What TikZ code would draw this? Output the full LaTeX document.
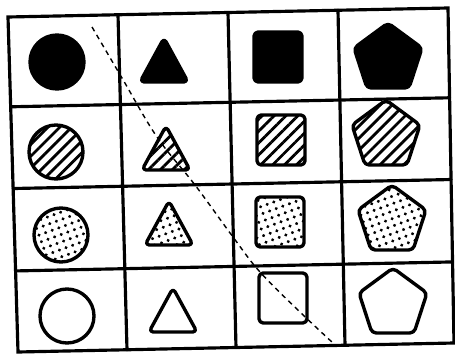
\documentclass[tikz,border=0pt]{standalone}
\usepackage{tikz}
\usetikzlibrary{calc, patterns.meta}

\begin{document}
\begin{tikzpicture}[x=0.5mm, y=-0.5mm,
  outline/.style={line width=4.8pt, rounded corners=6pt, line join=round},
  blackshape/.style={outline, fill=black},
  hatchshape/.style={outline, pattern={Lines[angle=45, distance=12pt, line width=4pt]}},
  dotshape/.style={outline, pattern={Dots[radius=2.4pt, distance=10pt, angle=20]}},
  openshape/.style={outline, fill=white},
  gridline/.style={line width=4.5pt, line cap=round},
  cutline/.style={line width=2pt, dash pattern=on 7pt off 6pt}]

  \useasboundingbox (0,0) rectangle (455,354);

  % corners of the (slightly skewed) table
  \coordinate (tl) at (8,17);
  \coordinate (tr) at (448,8);
  \coordinate (bl) at (18,352);
  \coordinate (br) at (454,343);

  % table lines
  \draw[gridline] (tl) -- (tr) -- (br) -- (bl) -- cycle;
  \foreach \f in {0.25, 0.5, 0.75}
    \draw[gridline] ($(tl)!\f!(tr)$) -- ($(bl)!\f!(br)$);
  \foreach \f in {0.268, 0.512, 0.758}
    \draw[gridline] ($(tl)!\f!(bl)$) -- ($(tr)!\f!(br)$);

  % row 1: solid
  \draw[blackshape] (57,62) circle (27);
  \draw[blackshape, shift={(164,62)}] (0,-24) -- (24,20) -- (-24,20) -- cycle;
  \draw[blackshape, shift={(278,57)}] (-24,-25) rectangle (24,25);
  \draw[blackshape, shift={(388,59)}] (0,-36) -- (34,-11) -- (21,29) -- (-21,29) -- (-34,-11) -- cycle;

  % row 2: hatched
  \draw[hatchshape] (56,152) circle (27);
  \draw[hatchshape, shift={(166,150)}] (0,-24) -- (24,20) -- (-24,20) -- cycle;
  \draw[hatchshape, shift={(281,140)}] (-24,-25) rectangle (24,25);
  \draw[hatchshape, shift={(386,136)}] (0,-36) -- (34,-11) -- (21,29) -- (-21,29) -- (-34,-11) -- cycle;

  % row 3: dotted
  \draw[dotshape] (61,235) circle (27);
  \draw[dotshape, shift={(169,225)}] (0,-24) -- (24,20) -- (-24,20) -- cycle;
  \draw[dotshape, shift={(280,222)}] (-24,-25) rectangle (24,25);
  \draw[dotshape, shift={(392,221)}] (0,-36) -- (34,-11) -- (21,29) -- (-21,29) -- (-34,-11) -- cycle;

  % row 4: empty
  \draw[openshape] (67,316) circle (27);
  \draw[openshape, shift={(173,312)}] (0,-24) -- (24,20) -- (-24,20) -- cycle;
  \draw[openshape, shift={(283,298)}] (-24,-25) rectangle (24,25);
  \draw[openshape, shift={(393,304)}] (0,-36) -- (34,-11) -- (21,29) -- (-21,29) -- (-34,-11) -- cycle;

  % diagonal dashed cut
  \draw[cutline] plot[smooth, tension=0.6] coordinates
    {(92,27) (122,78) (157,137) (195,185) (233,237) (260,272) (300,312) (333,343)};

\end{tikzpicture}
\end{document}
